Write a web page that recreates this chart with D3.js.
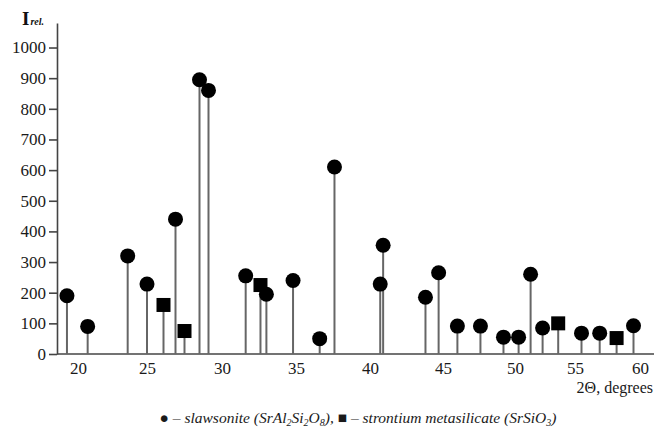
<!DOCTYPE html>
<html>
<head>
<meta charset="utf-8">
<script src="https://cdn.jsdelivr.net/npm/d3@7"></script>
<style>
  body { margin: 0; background: #fff; }
  svg { display: block; }
</style>
</head>
<body>
<svg id="chart" width="654" height="430"></svg>
<script>
// tick labels
var xTicks = [20, 25, 30, 35, 40, 45, 50, 55, 60];
var yTicks = [0, 100, 200, 300, 400, 500, 600, 700, 800, 900, 1000];

// slawsonite peaks (circles)
var slawAngle = [19.2, 20.7, 23.6, 25.0, 26.9, 28.5, 29.1, 31.6, 33.0, 34.8, 36.6, 37.6,
                 40.7, 40.9, 43.8, 44.7, 46.0, 47.6, 49.2, 50.3, 51.3, 52.3, 55.5, 56.9, 59.5];
var slawIntensity = [190, 90, 320, 228, 440, 895, 860, 255, 195, 240, 50, 610,
                     228, 355, 185, 265, 91, 91, 55, 55, 260, 85, 68, 68, 92];

// strontium metasilicate peaks (squares)
var srsiAngle = [26.1, 27.5, 32.6, 53.6, 58.2];
var srsiIntensity = [160, 75, 225, 100, 52];

var serif = "'Liberation Serif', 'Times New Roman', serif";

var svg = d3.select("#chart"),
    width = +svg.attr("width"),
    axisX = 57,
    baseY = 354;

svg.append("rect").attr("width", width).attr("height", 430).attr("fill", "#fff");

// the scanned axis is not quite even, so map each labelled tick to where it sits
var x = d3.scaleLinear()
    .domain(xTicks)
    .range([78, 147, 222, 296, 370, 443, 515, 575, 640]);

var y = d3.scaleLinear()
    .domain([0, 1080])
    .range([baseY, 23]);

var slaw = slawAngle.map(function(a, i) { return {angle: a, value: slawIntensity[i]}; });
var srsi = srsiAngle.map(function(a, i) { return {angle: a, value: srsiIntensity[i]}; });
var peaks = slaw.concat(srsi);

function styleAxis(g) {
  g.selectAll("text")
    .style("font-family", serif)
    .style("font-size", "17px")
    .attr("fill", "#1a1a1a");
  g.selectAll("line, path")
    .attr("stroke", "#444")
    .attr("stroke-width", 1.6);
}

// x axis: plain line, labels only
svg.append("line")
    .attr("x1", axisX).attr("x2", width)
    .attr("y1", baseY).attr("y2", baseY)
    .attr("stroke", "#444").attr("stroke-width", 1.6);

var gx = svg.append("g")
    .attr("transform", "translate(0," + baseY + ")")
    .call(d3.axisBottom(x).tickValues(xTicks).tickSize(0).tickPadding(8).tickFormat(d3.format("d")));
gx.select(".domain").remove();
styleAxis(gx);

// y axis
var gy = svg.append("g")
    .attr("transform", "translate(" + axisX + ",0)")
    .call(d3.axisLeft(y).tickValues(yTicks).tickSize(8).tickSizeOuter(0).tickPadding(3).tickFormat(d3.format("d")));
styleAxis(gy);

// stems
svg.append("g").selectAll("line")
    .data(peaks)
  .enter().append("line")
    .attr("x1", function(d) { return x(d.angle); })
    .attr("x2", function(d) { return x(d.angle); })
    .attr("y1", y(0))
    .attr("y2", function(d) { return y(d.value); })
    .attr("stroke", "#666")
    .attr("stroke-width", 2);

// markers
svg.append("g").selectAll("circle")
    .data(slaw)
  .enter().append("circle")
    .attr("cx", function(d) { return x(d.angle); })
    .attr("cy", function(d) { return y(d.value); })
    .attr("r", 7.5)
    .attr("fill", "#000");

svg.append("g").selectAll("rect")
    .data(srsi)
  .enter().append("rect")
    .attr("x", function(d) { return x(d.angle) - 7; })
    .attr("y", function(d) { return y(d.value) - 7; })
    .attr("width", 14)
    .attr("height", 14)
    .attr("fill", "#000");

// axis titles
var yt = svg.append("text")
    .attr("x", 22).attr("y", 25)
    .style("font-family", serif)
    .attr("fill", "#111");
yt.append("tspan").style("font-size", "19px").style("font-weight", "bold").text("I");
yt.append("tspan").style("font-size", "10px").style("font-weight", "bold").style("font-style", "italic").attr("dx", 1).text("rel.");

svg.append("text")
    .attr("x", 653).attr("y", 393)
    .attr("text-anchor", "end")
    .style("font-family", serif)
    .style("font-size", "16px")
    .attr("fill", "#1a1a1a")
    .text("2Θ, degrees");

// caption
var cap = svg.append("text")
    .attr("x", 358).attr("y", 423)
    .attr("text-anchor", "middle")
    .style("font-family", serif)
    .style("font-size", "15.5px")
    .attr("fill", "#1a1a1a");

function part(t, italic, sub) {
  var s = cap.append("tspan").text(t);
  if (italic) s.style("font-style", "italic");
  if (sub) s.style("font-size", "10px").attr("dy", 3);
  return s;
}
part("● ", false);
part("– slawsonite (SrAl", true);
part("2", true, true);
part("Si", true).attr("dy", -3);
part("2", true, true);
part("O", true).attr("dy", -3);
part("8", true, true);
part("), ", true).attr("dy", -3);
part("■ ", false);
part("– strontium metasilicate (SrSiO", true);
part("3", true, true);
part(")", true).attr("dy", -3);
</script>
</body>
</html>
